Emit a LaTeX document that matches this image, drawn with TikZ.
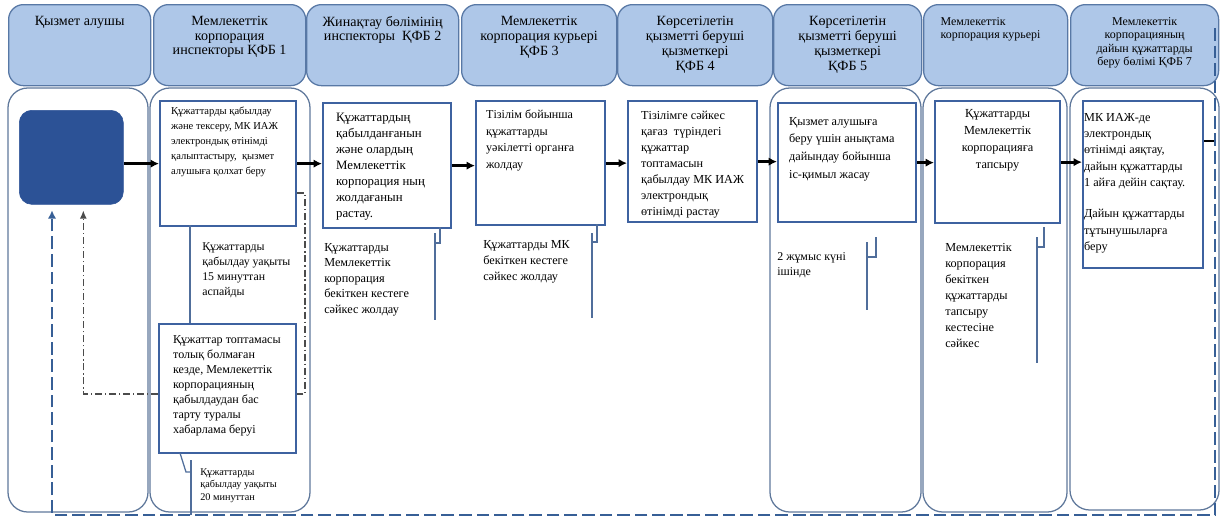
\documentclass[tikz,border=0pt]{standalone}
\usepackage{fontspec}
\setmainfont{Liberation Serif}
\usetikzlibrary{arrows.meta,calc}

\definecolor{hdrfill}{RGB}{174,199,232}
\definecolor{hdrline}{RGB}{88,120,165}
\definecolor{laneline}{RGB}{95,120,155}
\definecolor{boxline}{RGB}{62,98,160}
\definecolor{startfill}{RGB}{44,82,150}
\definecolor{backline}{RGB}{55,95,150}
\definecolor{rejline}{RGB}{75,75,75}
\definecolor{calline}{RGB}{80,110,155}

% one pixel of the layout grid
\newlength{\px}\setlength{\px}{0.025cm}
\newcommand{\fsz}[2]{\fontsize{#1}{#2}\selectfont}
% width, height, top gap, left gap, text
\newcommand{\cellbox}[5]{\parbox[c][#2\px][t]{#1\px}{\vspace*{#3\px}\setlength{\leftskip}{#4\px}\setlength{\rightskip}{0pt plus 1fil}\setlength{\parindent}{0pt}#5}}

\begin{document}
\begin{tikzpicture}[x=0.025cm, y=-0.025cm,
    hdr/.style={draw=hdrline, fill=hdrfill, line width=0.9pt, rounded corners=10.5pt, inner sep=0pt, anchor=north west},
    lane/.style={draw=laneline, line width=0.9pt, rounded corners=14pt},
    stepbox/.style={draw=boxline, line width=1.6pt, inner sep=0pt, anchor=north west},
    note/.style={inner sep=0pt, anchor=north west, align=left},
    flow/.style={-{Latex[length=6pt,width=6pt]}, line width=2pt},
    back/.style={draw=backline, line width=1.8pt, dash pattern=on 9pt off 3.5pt},
    reject/.style={draw=rejline, line width=1.1pt, dash pattern=on 5pt off 2pt on 1pt off 2pt},
    callout/.style={draw=calline, line width=0.9pt}]
    \useasboundingbox (0,0) rectangle (1224,521);

    % Header row
    \node[hdr] (h1) at (8,4) {\cellbox{142}{81}{12}{0}{\centering\fsz{10}{10}Қызмет алушы}};
    \node[hdr] (h2) at (153,4) {\cellbox{152}{81}{12}{0}{\centering\fsz{10}{10}Мемлекеттік\\корпорация\\инспекторы ҚФБ 1}};
    \node[hdr] (h3) at (306,4) {\cellbox{152}{81}{12}{0}{\centering\fsz{10}{10}Жинақтау бөлімінің\\инспекторы~ ҚФБ 2}};
    \node[hdr] (h4) at (461,4) {\cellbox{155}{81}{12}{0}{\centering\fsz{10}{10.5}Мемлекеттік\\корпорация курьері\\ҚФБ 3}};
    \node[hdr] (h5) at (617,4) {\cellbox{155}{81}{12}{0}{\centering\fsz{10}{10.5}Көрсетілетін\\қызметті беруші\\қызметкері\\ҚФБ 4}};
    \node[hdr] (h6) at (773,4) {\cellbox{148}{81}{12}{0}{\centering\fsz{10}{10.5}Көрсетілетін\\қызметті беруші\\қызметкері\\ҚФБ 5}};
    \node[hdr] (h7) at (923,4) {\cellbox{144}{81}{13}{17}{\fsz{8.5}{9.5}Мемлекеттік\\корпорация курьері}};
    \node[hdr] (h8) at (1070,4) {\cellbox{148}{81}{13}{0}{\centering\fsz{8.5}{9.5}Мемлекеттік\\корпорацияның\\дайын құжаттарды\\беру бөлімі ҚФБ 7}};

    % Lanes
    \draw[lane] (8,88) rectangle (148,512);
    \draw[lane] (150,88) rectangle (310,512);
    \draw[lane] (770,88) rectangle (921,512);
    \draw[lane] (923,88) rectangle (1067,512);
    \draw[lane] (1070,88) rectangle (1219,510);

    % Start
    \node[draw=startfill, fill=startfill, rounded corners=9pt, minimum width=74pt, minimum height=66.9pt, inner sep=0pt, anchor=north west] (start) at (19,110) {};

    % Steps
    \node[stepbox] (ka) at (159,100) {\cellbox{136}{125}{6}{11}{\fsz{7.5}{10.7}Құжаттарды қабылдау\\және тексеру, МК ИАЖ\\электрондық өтінімді\\қалыптастыру,~ қызмет\\алушыға қолхат беру}};
    \node[stepbox] (kb) at (322,102) {\cellbox{128}{125}{10}{13}{\fsz{9.1}{11.4}Құжаттардың\\қабылданғанын\\және олардың\\Мемлекеттік\\корпорация ның\\жолдағанын\\растау.}};
    \node[stepbox] (kc) at (475,100) {\cellbox{129}{124}{9}{10}{\fsz{8.6}{11.7}Тізілім бойынша\\құжаттарды\\уәкілетті органға\\жолдау}};
    \node[stepbox] (kd) at (627,100) {\cellbox{129}{121}{10}{13}{\fsz{8.7}{11.4}Тізілімге сәйкес\\қағаз~ түріндегі\\құжаттар\\топтамасын\\қабылдау МК ИАЖ\\электрондық\\өтінімді растау}};
    \node[stepbox] (ke) at (777,102) {\cellbox{138}{119}{14}{11}{\fsz{8.7}{12.6}Қызмет алушыға\\беру үшін анықтама\\дайындау бойынша\\іс-қимыл жасау}};
    \node[stepbox] (kf) at (934,100) {\cellbox{125}{122}{8}{0}{\centering\fsz{8.75}{12.1}Құжаттарды\\Мемлекеттік\\корпорацияға\\тапсыру}};
    \node[stepbox] (kg) at (1082,100) {\cellbox{120}{167}{12}{1}{\fsz{8.7}{11.6}МК ИАЖ-де\\электрондық\\өтінімді аяқтау,\\дайын құжаттарды\\1 айға дейін сақтау.\par\vspace{15\px}Дайын құжаттарды\\тұтынушыларға\\беру}};
    \node[stepbox] (ktop) at (158,323) {\cellbox{137}{129}{11}{14}{\fsz{8.6}{10.7}Құжаттар топтамасы\\толық болмаған\\кезде, Мемлекеттік\\корпорацияның\\қабылдаудан бас\\тарту туралы\\хабарлама беруі}};

    % Time notes
    \node[note, font=\fsz{8.4}{10.7}] (n1) at (202,242) {Құжаттарды\\қабылдау уақыты\\15 минуттан\\аспайды};
    \node[note, font=\fsz{7.3}{9.2}] (n2) at (200,468) {Құжаттарды\\қабылдау уақыты\\20 минуттан};
    \node[note, font=\fsz{8.7}{11}] (n3) at (324,243) {Құжаттарды\\Мемлекеттік\\корпорация\\бекіткен кестеге\\сәйкес жолдау};
    \node[note, font=\fsz{8.7}{11.4}] (n4) at (483,240) {Құжаттарды МК\\бекіткен кестеге\\сәйкес жолдау};
    \node[note, font=\fsz{8.5}{10.7}] (n5) at (777,252) {2 жұмыс күні\\ішінде};
    \node[note, font=\fsz{8.7}{11.4}] (n6) at (945,243) {Мемлекеттік\\корпорация\\бекіткен\\құжаттарды\\тапсыру\\кестесіне\\сәйкес};

    % Callout brackets
    \coordinate (c1) at (190,225);
    \draw[callout] (c1) -- (c1 |- ktop.north);
    \draw[callout] (180,453) -- (186,472) -- (191,472);
    \draw[callout] (191,460) -- (191,515);
    \draw[callout] (440,227) -- (440,243) -- (435,243);
    \draw[callout] (435,233) -- (435,320);
    \draw[callout] (597,224) -- (597,242) -- (592,242);
    \draw[callout] (592,233) -- (592,318);
    \draw[callout] (876,237) -- (876,257) -- (867,257);
    \draw[callout] (867,242) -- (867,310);
    \draw[callout] (1044,227) -- (1044,247) -- (1037,247);
    \draw[callout] (1037,237) -- (1037,363);

    % Main flow
    \draw[flow] (start.east |- ka.west) -- (ka.west);
    \draw[flow] (ka.east) -- (ka.east -| kb.west);
    \draw[flow] (kb.east) -- (kb.east -| kc.west);
    \draw[flow] (kc.east) -- (kc.east -| kd.west);
    \draw[flow] (kd.east) -- (kd.east -| ke.west);
    \draw[flow] (ke.east) -- (ke.east -| kf.west);
    \draw[flow] (kf.east) -- (kf.east -| kg.west);

    % Refusal path
    \draw[reject] ($(ka.east)+(0,29.5)$) -- ++(8,0) |- ($(ktop.east)+(0,5.5)$);
    \draw[reject, -{Latex[length=6pt,width=5pt]}, shorten >=4pt] ($(ktop.west)+(0,5.5)$) -| ($(start.south)+(12,0)$);

    % Return path
    \coordinate (kgout) at (1215,141);
    \coordinate (rtop) at (1215,28);
    \coordinate (rbot) at (1215,515);
    \draw[line width=1.2pt] (kg.east |- kgout) -- (kgout);
    \draw[back, -{Latex[length=6pt,width=6pt]}, shorten >=4pt] (rtop) -- (rbot) -| ($(start.south west)+(33,0)$);
\end{tikzpicture}
\end{document}
